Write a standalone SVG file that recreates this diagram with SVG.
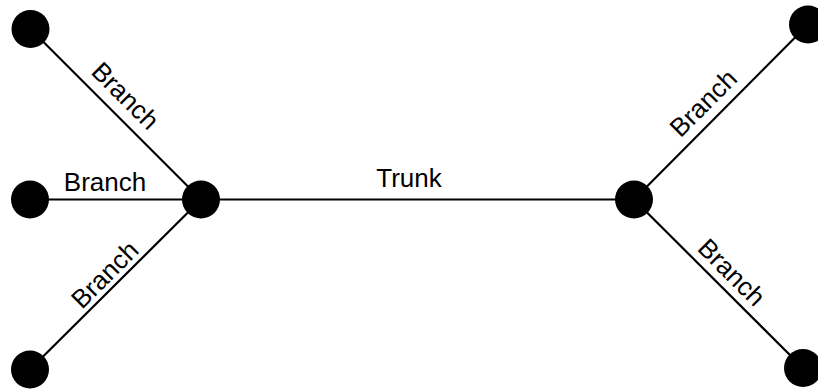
<svg xmlns="http://www.w3.org/2000/svg" width="818" height="389" viewBox="0 0 818 389">
  <style>
    .edge { stroke: #000; stroke-width: 2.2; fill: none; }
    .node { fill: #000; }
    .label { font-family: "Liberation Sans", Arial, sans-serif; font-size: 26px; fill: #000; text-anchor: middle; }
  </style>
  <rect width="818" height="389" fill="#fff"/>

  <!-- connectors -->
  <g id="edges">
    <line class="edge" x1="30.5" y1="29" x2="201" y2="199.5"/>
    <line class="edge" x1="30" y1="199.5" x2="201" y2="199.5"/>
    <line class="edge" x1="30" y1="369.5" x2="201" y2="199.5"/>
    <line class="edge" x1="201" y1="199.5" x2="634" y2="199.5"/>
    <line class="edge" x1="634" y1="199.5" x2="808" y2="24.5"/>
    <line class="edge" x1="634" y1="199.5" x2="803" y2="368"/>
  </g>

  <!-- connector labels -->
  <g id="edge-labels">
    <text class="label" transform="translate(119 102) rotate(45)">Branch</text>
    <text class="label" x="105" y="190.5">Branch</text>
    <text class="label" transform="translate(111 281) rotate(-45)">Branch</text>
    <text class="label" x="409" y="186.5">Trunk</text>
    <text class="label" transform="translate(709.5 109.5) rotate(-45)">Branch</text>
    <text class="label" transform="translate(725.3 278.7) rotate(45)">Branch</text>
  </g>

  <!-- nodes -->
  <g id="leaf-top-left"><circle class="node" cx="30.5" cy="29" r="19"/></g>
  <g id="leaf-mid-left"><circle class="node" cx="30" cy="199.5" r="19"/></g>
  <g id="leaf-bottom-left"><circle class="node" cx="30" cy="369.5" r="19"/></g>
  <g id="hub-left"><circle class="node" cx="201" cy="199.5" r="19"/></g>
  <g id="hub-right"><circle class="node" cx="634" cy="199.5" r="19"/></g>
  <g id="leaf-top-right"><circle class="node" cx="808" cy="24.5" r="19"/></g>
  <g id="leaf-bottom-right"><circle class="node" cx="803" cy="368" r="19"/></g>
</svg>
